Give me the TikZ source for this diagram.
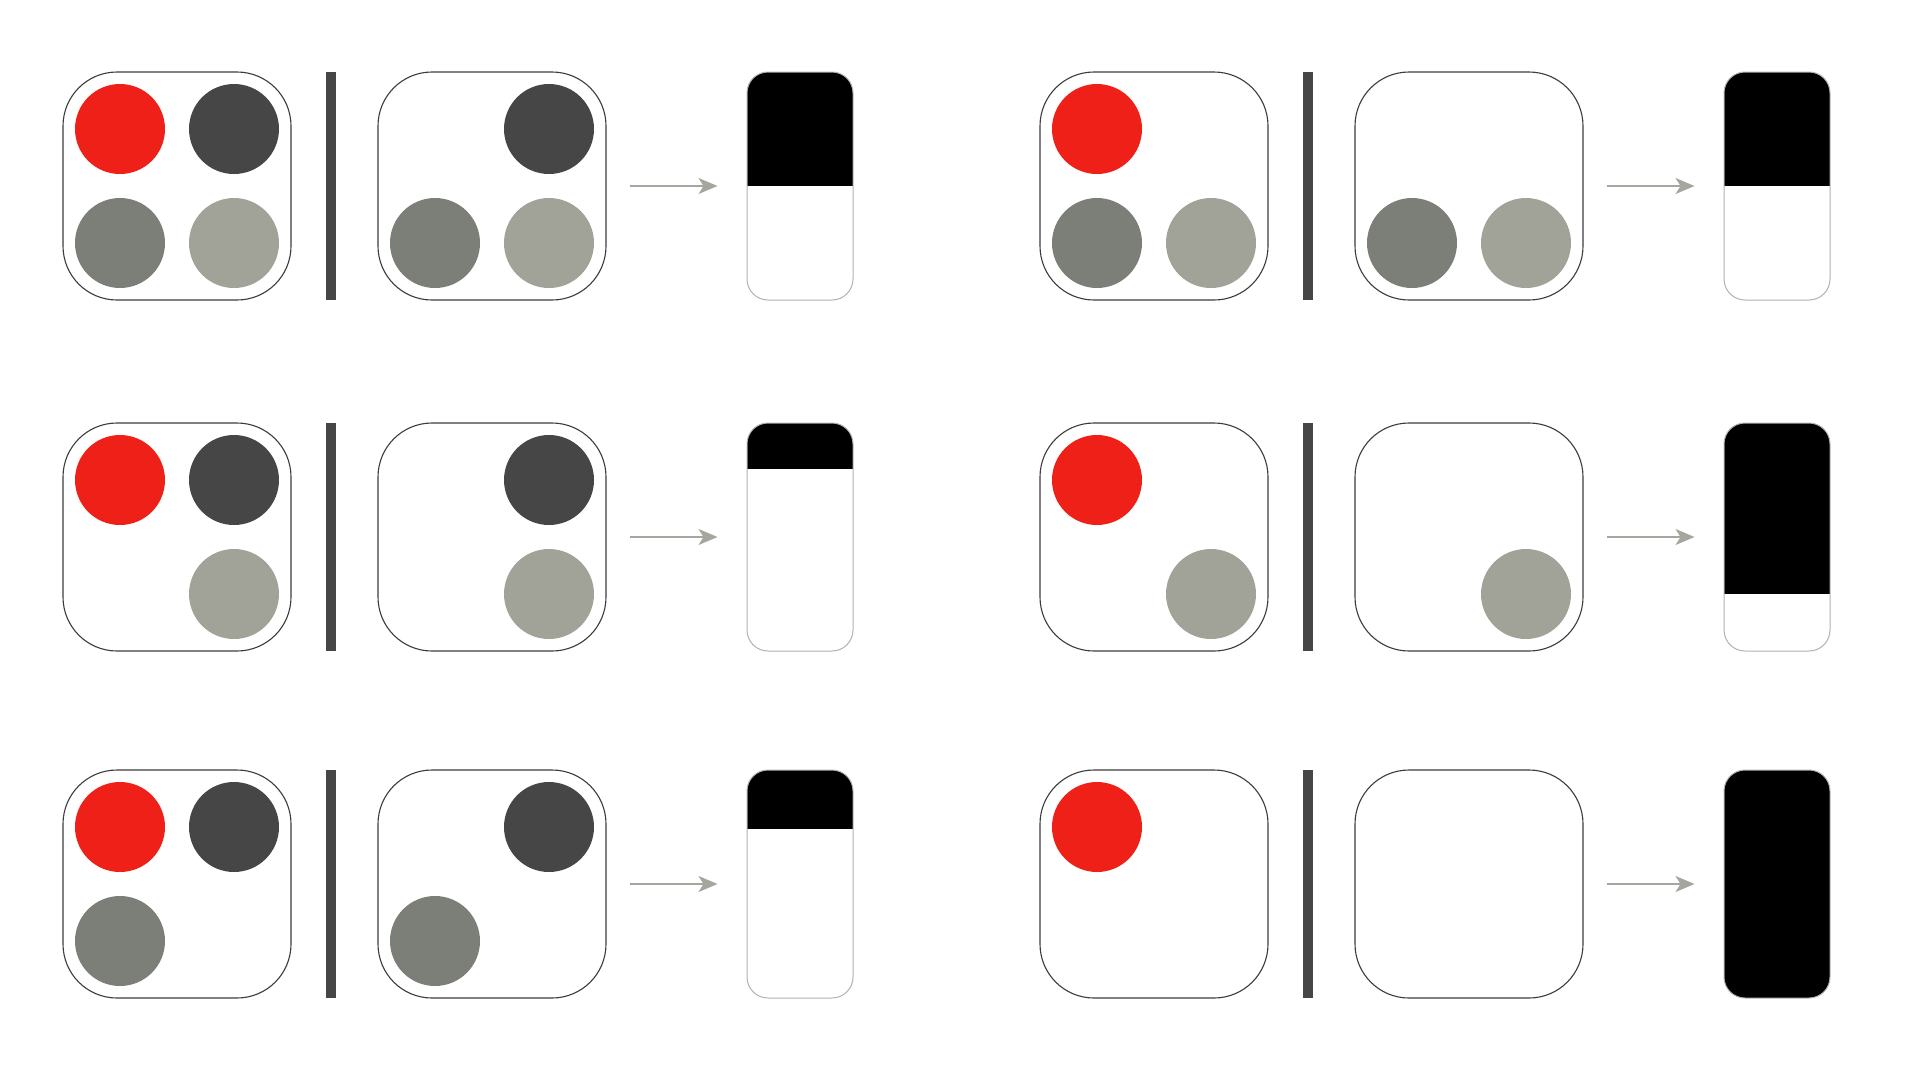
\documentclass[tikz,border=0pt]{standalone}
\usetikzlibrary{arrows.meta,calc}
\definecolor{redc}{HTML}{EE2017}
\definecolor{darkc}{HTML}{464646}
\definecolor{midc}{HTML}{7B7F78}
\definecolor{lightc}{HTML}{A2A398}
\definecolor{barc}{HTML}{464646}
\definecolor{arrc}{HTML}{A6A69E}
\definecolor{boxc}{HTML}{3C3C3C}
\definecolor{resc}{HTML}{B3B3AC}
\tikzset{
 tray/.style={draw=boxc, line width=1.1pt, rounded corners=54pt, minimum width=228pt, minimum height=228pt, inner sep=0pt, fill=white},
 dot/.style={circle, fill=#1, minimum size=90pt, inner sep=0pt},
 divider/.style={fill=barc, minimum width=10pt, minimum height=228pt, inner sep=0pt},
 gauge/.style={draw=resc, line width=1pt, rounded corners=21pt, minimum width=106pt, minimum height=228pt, inner sep=0pt, fill=white,
   path picture={\fill[black, sharp corners] (path picture bounding box.north west) rectangle ($(path picture bounding box.north east)!#1!(path picture bounding box.south east)$);}},
 flow/.style={draw=arrc, line width=1.4pt, -{Stealth[length=19pt,width=16pt,inset=5pt]}, shorten <=23pt, shorten >=29pt},
}
\newcommand\drawpanel[4]{%
 \node[tray] (#1a) at (#2+114,#3+114) {};
 \node[divider] (#1s) at (#2+268,#3+114) {};
 \node[tray] (#1b) at (#2+429,#3+114) {};
 \node[gauge=#4] (#1g) at (#2+737,#3+114) {};
 \draw[flow] (#1b.east) -- (#1g.west);
}
\newcommand\putdot[4]{\node[dot=#4] (#1) at (#2,#3) {};}
\begin{document}
\begin{tikzpicture}[x=1pt,y=-1pt]
\useasboundingbox[fill=white] (0,0) rectangle (1920,1080);
% panel 1
\drawpanel{pA}{63}{72}{0.5}
\putdot{pAar}{120}{129}{redc}
\putdot{pAad}{234}{129}{darkc}
\putdot{pAam}{120}{243}{midc}
\putdot{pAal}{234}{243}{lightc}
\putdot{pAbd}{549}{129}{darkc}
\putdot{pAbm}{435}{243}{midc}
\putdot{pAbl}{549}{243}{lightc}
% panel 2
\drawpanel{pB}{1040}{72}{0.5}
\putdot{pBar}{1097}{129}{redc}
\putdot{pBam}{1097}{243}{midc}
\putdot{pBal}{1211}{243}{lightc}
\putdot{pBbm}{1412}{243}{midc}
\putdot{pBbl}{1526}{243}{lightc}
% panel 3
\drawpanel{pC}{63}{423}{0.2}
\putdot{pCar}{120}{480}{redc}
\putdot{pCad}{234}{480}{darkc}
\putdot{pCal}{234}{594}{lightc}
\putdot{pCbd}{549}{480}{darkc}
\putdot{pCbl}{549}{594}{lightc}
% panel 4
\drawpanel{pD}{1040}{423}{0.75}
\putdot{pDar}{1097}{480}{redc}
\putdot{pDal}{1211}{594}{lightc}
\putdot{pDbl}{1526}{594}{lightc}
% panel 5
\drawpanel{pE}{63}{770}{0.26}
\putdot{pEar}{120}{827}{redc}
\putdot{pEad}{234}{827}{darkc}
\putdot{pEam}{120}{941}{midc}
\putdot{pEbd}{549}{827}{darkc}
\putdot{pEbm}{435}{941}{midc}
% panel 6
\drawpanel{pF}{1040}{770}{1}
\putdot{pFar}{1097}{827}{redc}
\end{tikzpicture}
\end{document}
